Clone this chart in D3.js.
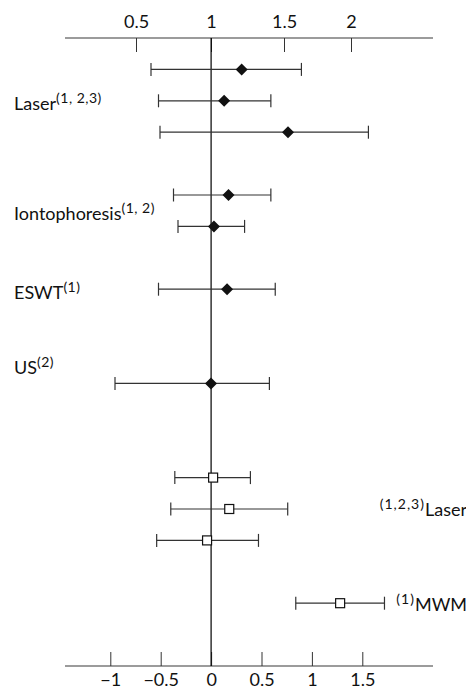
<!DOCTYPE html>
<html>
<head>
<meta charset="utf-8">
<script src="https://cdn.jsdelivr.net/npm/d3@7"></script>
<style>
	body { margin: 0; background: #fff; }
	text { font-family: Lato, sans-serif; fill: #111; }
</style>
</head>
<body>
<svg id="chart" width="466" height="688"></svg>
<script>
// top block: odds ratios (diamonds), read against the top axis
var orSlot = [0, 1, 2, 4, 5, 7, 10];
var orLow  = [0.60, 0.65, 0.66, 0.75, 0.78, 0.65, 0.36];
var orEst  = [1.21, 1.09, 1.53, 1.12, 1.02, 1.11, 1.00];
var orHigh = [1.63, 1.41, 2.13, 1.41, 1.23, 1.44, 1.40];

// bottom block: mean differences (squares), read against the bottom axis
var mdSlot = [13, 14, 15, 17];
var mdLow  = [-0.36, -0.40, -0.54, 0.84];
var mdEst  = [0.02, 0.18, -0.04, 1.28];
var mdHigh = [0.39, 0.76, 0.47, 1.72];

var topTicks = [0.5, 1, 1.5, 2];
var bottomTicks = [-1, -0.5, 0, 0.5, 1, 1.5];

var leftLabels = ["Laser", "Iontophoresis", "ESWT", "US"];
var leftSups   = ["(1, 2,3)", "(1, 2)", "(1)", "(2)"];
var leftSlots  = [1.1, 4.6, 7.1, 9.5];

var rightLabels = ["Laser", "MWM"];
var rightSups   = ["(1,2,3)", "(1)"];
var rightSlots  = [14, 17.05];

var svg = d3.select("#chart");

// rows are spaced on a slot grid, axes sit at slot -1 and 19
var y = d3.scaleLinear().domain([-1, 19]).range([38, 666]);

// bottom axis is linear, top one is drawn with uneven tick spacing
var xMD = d3.scaleLinear().domain([-1, 1.5]).range([110.3, 362.3]);
var xOR = d3.scaleLinear().domain([0.5, 1, 1.5, 2]).range([136, 211, 284, 351]);

var left = 65, right = 433;

// axis lines
svg.append("line").attr("x1", left).attr("x2", right)
	.attr("y1", y(-1)).attr("y2", y(-1))
	.attr("stroke", "#7a7a7a").attr("stroke-width", 1.5);
svg.append("line").attr("x1", left).attr("x2", right)
	.attr("y1", y(19)).attr("y2", y(19))
	.attr("stroke", "#7a7a7a").attr("stroke-width", 1.5);

var topAxis = svg.append("g")
	.attr("transform", "translate(0," + y(-1) + ")")
	.call(d3.axisTop(xOR).tickValues(topTicks).tickFormat(d3.format("")).tickSizeOuter(0));
topAxis.select(".domain").remove();
topAxis.selectAll("line").attr("y2", 14).attr("stroke", "#333");
topAxis.selectAll("text").attr("y", -10).attr("dy", 0)
	.style("font-size", "18px").attr("fill", "#111");

var botAxis = svg.append("g")
	.attr("transform", "translate(0," + y(19) + ")")
	.call(d3.axisBottom(xMD).tickValues(bottomTicks).tickFormat(d3.format("")).tickSizeOuter(0));
botAxis.select(".domain").remove();
botAxis.selectAll("line").attr("y2", -14).attr("stroke", "#333");
botAxis.selectAll("text").attr("y", 20).attr("dy", 0)
	.style("font-size", "18px").attr("fill", "#111");

// line of no effect
svg.append("line")
	.attr("x1", xMD(0)).attr("x2", xMD(0))
	.attr("y1", y(-1)).attr("y2", y(19))
	.attr("stroke", "#000").attr("stroke-width", 1.2);

function drawRows(slots, lo, est, hi, x, shape) {
	var g = svg.append("g");
	var rows = g.selectAll("g").data(slots).enter().append("g");
	rows.append("line")
		.attr("x1", function (d, i) { return x(lo[i]); })
		.attr("x2", function (d, i) { return x(hi[i]); })
		.attr("y1", function (d) { return y(d); })
		.attr("y2", function (d) { return y(d); })
		.attr("stroke", "#333").attr("stroke-width", 1.2);
	[lo, hi].forEach(function (arr) {
		rows.append("line")
			.attr("x1", function (d, i) { return x(arr[i]); })
			.attr("x2", function (d, i) { return x(arr[i]); })
			.attr("y1", function (d) { return y(d) - 6.5; })
			.attr("y2", function (d) { return y(d) + 6.5; })
			.attr("stroke", "#333").attr("stroke-width", 1.2);
	});
	if (shape == "diamond") {
		rows.append("path")
			.attr("d", "M0,-6L6,0L0,6L-6,0Z")
			.attr("transform", function (d, i) { return "translate(" + x(est[i]) + "," + y(d) + ")"; })
			.attr("fill", "#111");
	} else {
		rows.append("rect")
			.attr("x", function (d, i) { return x(est[i]) - 4.5; })
			.attr("y", function (d) { return y(d) - 4.5; })
			.attr("width", 9).attr("height", 9)
			.attr("fill", "#fff").attr("stroke", "#111").attr("stroke-width", 1.2);
	}
}

drawRows(orSlot, orLow, orEst, orHigh, xOR, "diamond");
drawRows(mdSlot, mdLow, mdEst, mdHigh, xMD, "square");

// group labels
var lt = svg.selectAll(".lab").data(leftLabels).enter().append("text")
	.attr("x", 14)
	.attr("y", function (d, i) { return y(leftSlots[i]) + 6.5; })
	.style("font-size", "18px");
lt.append("tspan").text(function (d) { return d; });
lt.append("tspan").attr("dy", -7).style("font-size", "14px").style("letter-spacing", "0.5px")
	.text(function (d, i) { return leftSups[i]; });

var rt = svg.selectAll(".rlab").data(rightLabels).enter().append("text")
	.attr("x", 467)
	.attr("text-anchor", "end")
	.attr("y", function (d, i) { return y(rightSlots[i]) + 6.5; })
	.style("font-size", "18px");
rt.append("tspan").attr("dy", -7).style("font-size", "14px").style("letter-spacing", "1px")
	.text(function (d, i) { return rightSups[i]; });
rt.append("tspan").attr("dy", 7).text(function (d) { return d; });
</script>
</body>
</html>
